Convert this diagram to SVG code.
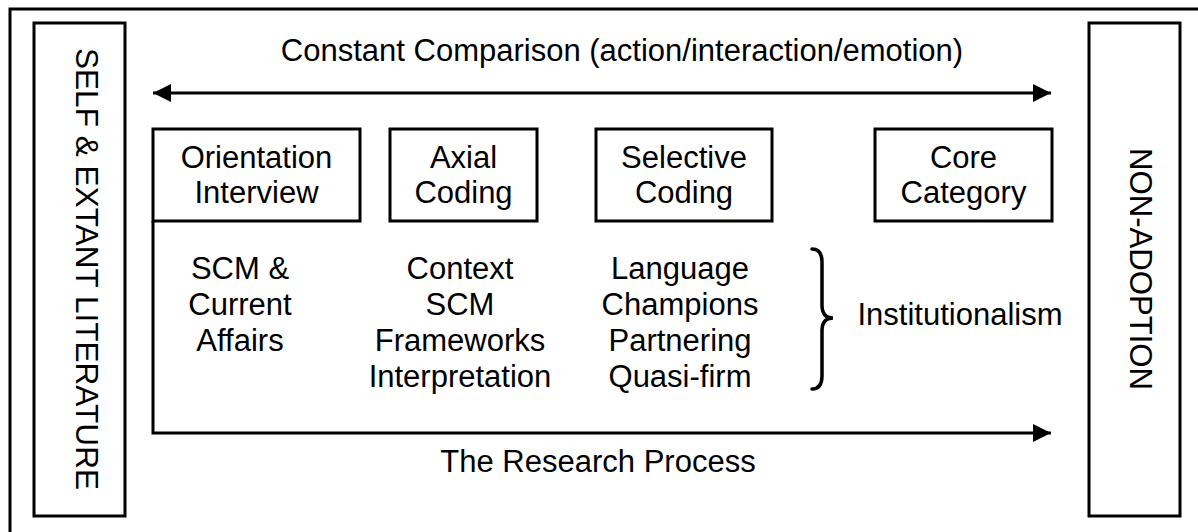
<svg xmlns="http://www.w3.org/2000/svg" width="1198" height="532" viewBox="0 0 1198 532">
<defs>
<style>
.box{fill:#fff;stroke:#000;stroke-width:3}
.ln{fill:none;stroke:#000;stroke-width:3}
.br{fill:none;stroke:#000;stroke-width:3.5;stroke-linecap:round}
text{font-family:"Liberation Sans",Arial,sans-serif;font-size:31px;fill:#000;text-anchor:middle}
</style>
<marker id="ah" viewBox="0 0 10 10" refX="10" refY="5" markerWidth="6" markerHeight="6" markerUnits="strokeWidth" orient="auto-start-reverse">
<path d="M0,0 L10,5 L0,10 z" fill="#000"/>
</marker>
</defs>
<rect x="0" y="0" width="1198" height="532" fill="#fff"/>
<rect id="frame" x="10" y="9" width="1200" height="540" fill="none" stroke="#000" stroke-width="3"/>
<g id="self">
<rect class="box" x="34" y="23" width="91" height="493"/>
<text transform="translate(87,269) rotate(90)" y="11" textLength="442" lengthAdjust="spacingAndGlyphs">SELF &amp; EXTANT LITERATURE</text>
</g>
<g id="nonadoption">
<rect class="box" x="1089" y="23" width="91" height="493"/>
<text transform="translate(1141,269) rotate(90)" y="11" textLength="242" lengthAdjust="spacingAndGlyphs">NON-ADOPTION</text>
</g>
<g id="connectors">
<line class="ln" x1="153" y1="93" x2="1051" y2="93" marker-start="url(#ah)" marker-end="url(#ah)"/>
<polyline class="ln" points="153,221 153,433 1051,433" marker-end="url(#ah)"/>
<path class="br" d="M812,249 Q822,249 822,262 L822,305 Q822,318 833,318 Q822,318 822,331 L822,376 Q822,389 812,389"/>
</g>
<g id="cc-label"><text x="622" y="61">Constant Comparison (action/interaction/emotion)</text></g>
<g id="orientation">
<rect class="box" x="153" y="129" width="207" height="92"/>
<text x="256.5" y="168">Orientation</text>
<text x="256.5" y="203">Interview</text>
</g>
<g id="axial">
<rect class="box" x="390" y="129" width="147" height="92"/>
<text x="463.5" y="168">Axial</text>
<text x="463.5" y="203">Coding</text>
</g>
<g id="selective">
<rect class="box" x="596" y="129" width="176" height="92"/>
<text x="684" y="168">Selective</text>
<text x="684" y="203">Coding</text>
</g>
<g id="core">
<rect class="box" x="875" y="129" width="177" height="92"/>
<text x="963.5" y="168">Core</text>
<text x="963.5" y="203">Category</text>
</g>
<g id="col1">
<text x="240" y="279">SCM &amp;</text>
<text x="240" y="315">Current</text>
<text x="240" y="351">Affairs</text>
</g>
<g id="col2">
<text x="460" y="279">Context</text>
<text x="460" y="315">SCM</text>
<text x="460" y="351">Frameworks</text>
<text x="460" y="387">Interpretation</text>
</g>
<g id="col3">
<text x="680" y="279">Language</text>
<text x="680" y="315">Champions</text>
<text x="680" y="351">Partnering</text>
<text x="680" y="387">Quasi-firm</text>
</g>
<g id="inst"><text x="960" y="325">Institutionalism</text></g>
<g id="rp-label"><text x="598" y="472">The Research Process</text></g>
</svg>
